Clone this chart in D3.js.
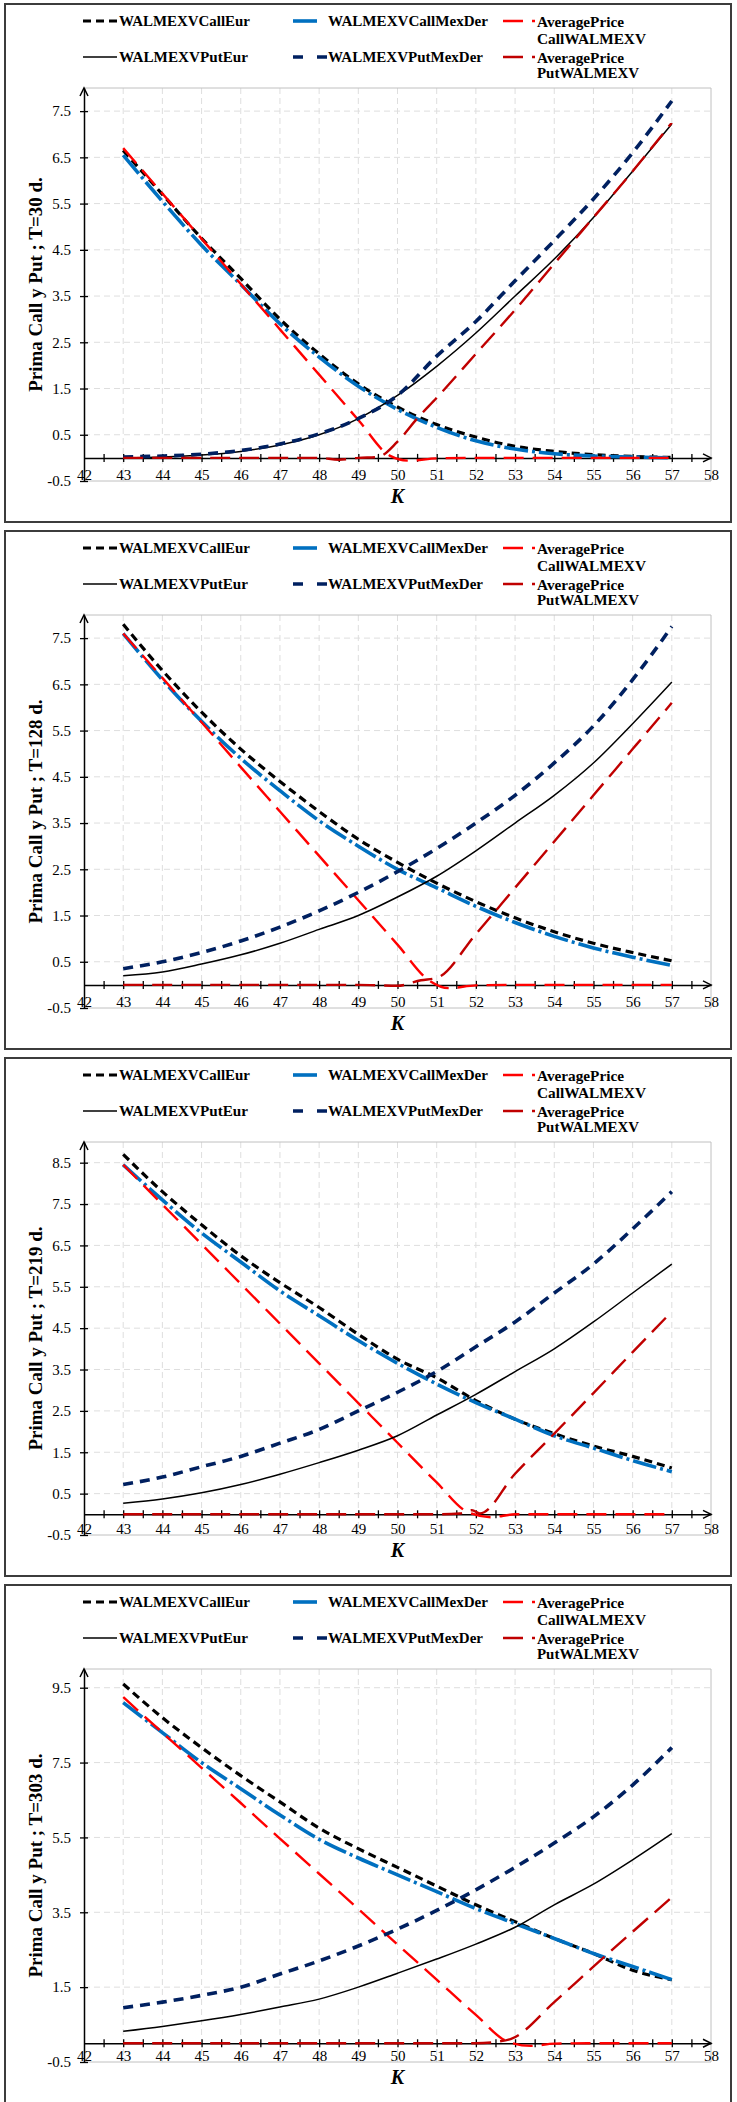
<!DOCTYPE html>
<html><head><meta charset="utf-8">
<script src="https://cdn.jsdelivr.net/npm/d3@7"></script>
<style>
body{margin:0;background:#fff}
svg{display:block}
text{font-family:"Liberation Serif","Times New Roman",serif}
</style>
</head><body>
<svg id="c" width="737" height="2102"></svg>
<script>
// ---------- DATA ----------
const strikes = [43,44,45,46,47,48,49,50,51,52,53,54,55,56,57];
const xTicks = [42,43,44,45,46,47,48,49,50,51,52,53,54,55,56,57,58];
const panelDays = [30,128,219,303];
const yMaxs = [8,8,9,10];
const yTicks30  = [-0.5,0.5,1.5,2.5,3.5,4.5,5.5,6.5,7.5];
const yTicks128 = [-0.5,0.5,1.5,2.5,3.5,4.5,5.5,6.5,7.5];
const yTicks219 = [-0.5,0.5,1.5,2.5,3.5,4.5,5.5,6.5,7.5,8.5];
const yTicks303 = [-0.5,1.5,3.5,5.5,7.5,9.5];
const seriesNames = ["WALMEXVCallEur","WALMEXVCallMexDer","AveragePrice CallWALMEXV","WALMEXVPutEur","WALMEXVPutMexDer","AveragePrice PutWALMEXV"];

// T = 30
const callEur30     = [6.65,5.7,4.75,3.88,3.0,2.25,1.6,1.1,0.72,0.45,0.25,0.14,0.07,0.03,0.01];
const callMexDer30  = [6.55,5.55,4.6,3.75,2.9,2.18,1.55,1.05,0.66,0.37,0.19,0.09,0.04,0.02,0.0];
const avgCallK30    = [43,44,45,46,47,48,49,49.8,50.3,51,52,53,54,55,56,57];
const avgCall30     = [6.7,5.72,4.74,3.76,2.78,1.8,0.82,0.05,-0.06,-0.01,0,0,0,0,0,0];
const putEur30      = [0.0,0.02,0.06,0.14,0.28,0.5,0.85,1.35,1.98,2.7,3.5,4.3,5.2,6.2,7.22];
const putMexDer30   = [0.02,0.04,0.08,0.16,0.3,0.52,0.85,1.35,2.2,2.95,3.83,4.7,5.6,6.6,7.72];
const avgPutK30     = [43,44,45,46,47,48,48.5,49,49.5,50,50.5,51,52,53,54,55,56,57];
const avgPut30      = [0,0,0,0,0,0,-0.04,0,0.02,0.35,0.85,1.3,2.25,3.2,4.2,5.2,6.2,7.25];

// T = 128
const callEur128    = [7.8,6.8,5.9,5.1,4.4,3.75,3.15,2.65,2.2,1.8,1.45,1.15,0.9,0.7,0.52];
const callMexDer128 = [7.6,6.6,5.7,4.9,4.2,3.55,3.0,2.5,2.1,1.7,1.35,1.05,0.8,0.6,0.42];
const avgCallK128   = [43,44,45,46,47,48,49,50,50.8,51.3,52,53,54,55,56,57];
const avgCall128    = [7.6,6.64,5.68,4.71,3.75,2.79,1.83,0.87,0.1,-0.07,-0.01,0,0,0,0,0];
const putEur128     = [0.2,0.28,0.45,0.65,0.9,1.2,1.5,1.9,2.35,2.9,3.5,4.1,4.8,5.65,6.55];
const putMexDer128  = [0.35,0.5,0.7,0.95,1.25,1.6,2.0,2.45,2.95,3.5,4.1,4.8,5.6,6.6,7.75];
const avgPutK128    = [43,44,45,46,47,48,49,50,50.6,51,52,53,54,55,56,57];
const avgPut128     = [0,0,0,0,0,0,0,-0.02,0.1,0.15,1.1,2.1,3.1,4.1,5.1,6.1];

// T = 219
const callEur219    = [8.7,7.8,7.0,6.25,5.6,5.0,4.35,3.75,3.3,2.75,2.3,1.95,1.65,1.4,1.12];
const callMexDer219 = [8.45,7.6,6.8,6.1,5.4,4.8,4.2,3.65,3.15,2.7,2.3,1.9,1.6,1.3,1.03];
const avgCallK219   = [43,44,45,46,47,48,49,50,51,51.8,52.4,53,54,55,56,57];
const avgCall219    = [8.45,7.49,6.53,5.57,4.61,3.65,2.69,1.73,0.77,0.05,-0.07,0,0,0,0,0];
const putEur219     = [0.27,0.37,0.52,0.72,0.97,1.25,1.55,1.9,2.4,2.9,3.45,4.0,4.65,5.35,6.05];
const putMexDer219  = [0.72,0.9,1.15,1.4,1.72,2.05,2.5,2.95,3.45,4.05,4.65,5.35,6.05,6.9,7.8];
const avgPutK219    = [43,44,45,46,47,48,49,50,51,51.6,51.9,52.1,53,54,55,56,57];
const avgPut219     = [0,0,0,0,0,0,0,0,0,0.02,0.1,0.02,0.98,1.95,2.93,3.92,4.9];

// T = 303
const callEur303    = [9.6,8.7,7.9,7.15,6.45,5.75,5.2,4.7,4.2,3.7,3.25,2.8,2.4,1.95,1.7];
const callMexDer303 = [9.1,8.3,7.5,6.8,6.1,5.45,4.95,4.5,4.05,3.6,3.2,2.8,2.4,2.05,1.7];
const avgCallK303   = [43,44,45,46,47,48,49,50,51,52,52.8,53.4,54,55,56,57];
const avgCall303    = [9.25,8.3,7.36,6.42,5.47,4.53,3.59,2.64,1.7,0.76,0.05,-0.07,-0.01,0,0,0];
const putEur303     = [0.32,0.45,0.6,0.77,0.97,1.18,1.5,1.87,2.25,2.65,3.1,3.7,4.25,4.9,5.6];
const putMexDer303  = [0.95,1.1,1.28,1.5,1.85,2.2,2.6,3.05,3.55,4.1,4.7,5.35,6.05,6.9,7.9];
const avgPutK303    = [43,44,45,46,47,48,49,50,51,52,52.6,52.9,54,55,56,57];
const avgPut303     = [0,0,0,0,0,0,0,0,0,0,0.05,0.12,1.1,2.05,2.98,3.9];

// ---------- STYLES ----------
const styles = [
  {color:"#000000", width:3.2, dash:"8,5"},
  {color:"#0070C0", width:3.6, dash:"24,4,3,4"},
  {color:"#FF0000", width:2.4, dash:"20,9"},
  {color:"#000000", width:1.5, dash:null},
  {color:"#002060", width:3.6, dash:"10,7"},
  {color:"#C00000", width:2.4, dash:"20,9"}
];

const zip = (xs, ys) => xs.map((x,i)=>[x, ys[i]]);
const panels = [
  {T:panelDays[0], yMax:yMaxs[0], yTicks:yTicks30, series:[zip(strikes,callEur30),zip(strikes,callMexDer30),zip(avgCallK30,avgCall30),zip(strikes,putEur30),zip(strikes,putMexDer30),zip(avgPutK30,avgPut30)]},
  {T:panelDays[1], yMax:yMaxs[1], yTicks:yTicks128, series:[zip(strikes,callEur128),zip(strikes,callMexDer128),zip(avgCallK128,avgCall128),zip(strikes,putEur128),zip(strikes,putMexDer128),zip(avgPutK128,avgPut128)]},
  {T:panelDays[2], yMax:yMaxs[2], yTicks:yTicks219, series:[zip(strikes,callEur219),zip(strikes,callMexDer219),zip(avgCallK219,avgCall219),zip(strikes,putEur219),zip(strikes,putMexDer219),zip(avgPutK219,avgPut219)]},
  {T:panelDays[3], yMax:yMaxs[3], yTicks:yTicks303, series:[zip(strikes,callEur303),zip(strikes,callMexDer303),zip(avgCallK303,avgCall303),zip(strikes,putEur303),zip(strikes,putMexDer303),zip(avgPutK303,avgPut303)]}
];

const svg = d3.select("#c");
const PX0 = 84, PX1 = 711;

function legend(g, oy){
  // [x1,x2,y,textX,styleIdx,label,textLen]
  const items = [
    {x1:83,x2:117,y:17,tx:119,s:0,lines:[["WALMEXVCallEur",131,17]]},
    {x1:293,x2:319,y:17,tx:328,s:1,lines:[["WALMEXVCallMexDer",160,17]]},
    {x1:503,x2:535,y:17,tx:537,s:2,lines:[["AveragePrice",87,18],["CallWALMEXV",109,35]]},
    {x1:83,x2:117,y:53,tx:119,s:3,lines:[["WALMEXVPutEur",129,53]]},
    {x1:293,x2:327,y:53,tx:328,s:4,dashOverride:"10,14",lines:[["WALMEXVPutMexDer",155,53]]},
    {x1:503,x2:535,y:53,tx:537,s:5,lines:[["AveragePrice",87,54],["PutWALMEXV",102,69]]}
  ];
  items.forEach(it=>{
    const st = styles[it.s];
    g.append("line").attr("x1",it.x1).attr("x2",it.x2).attr("y1",oy+it.y).attr("y2",oy+it.y)
      .attr("stroke",st.color).attr("stroke-width",st.width)
      .attr("stroke-dasharray",it.dashOverride || st.dash);
    it.lines.forEach(([t,len,yy])=>{
      g.append("text").attr("x",it.tx).attr("y",oy+yy).attr("dy","0.35em")
        .attr("font-size",14).attr("font-weight","bold")
        .attr("textLength",len).attr("lengthAdjust","spacingAndGlyphs").text(t);
    });
  });
}

panels.forEach((p,i)=>{
  const oy = 4 + i*527;
  const g = svg.append("g");
  g.append("rect").attr("x",5).attr("y",oy).attr("width",726).attr("height",518)
    .attr("fill","none").attr("stroke","#3c3c3c").attr("stroke-width",2);
  const top = oy+84, bot = oy+477;
  const x = d3.scaleLinear().domain([42,58]).range([PX0,PX1]);
  const y = d3.scaleLinear().domain([-0.5,p.yMax]).range([bot,top]);

  // grid
  g.append("g").selectAll("line").data(strikes).join("line")
    .attr("x1",d=>x(d)).attr("x2",d=>x(d)).attr("y1",top).attr("y2",bot)
    .attr("stroke","#dedede").attr("stroke-width",1).attr("stroke-dasharray","6,4");
  g.append("g").selectAll("line").data(p.yTicks.filter(v=>v>-0.5)).join("line")
    .attr("x1",PX0).attr("x2",PX1).attr("y1",d=>y(d)).attr("y2",d=>y(d))
    .attr("stroke","#dedede").attr("stroke-width",1).attr("stroke-dasharray","6,4");
  // plot border (top, right, bottom)
  g.append("path").attr("d",`M${PX0},${top}H${PX1}V${bot}H${PX0}`)
    .attr("fill","none").attr("stroke","#c0c0c0").attr("stroke-width",1);

  // y axis
  const ya = g.append("g").attr("transform",`translate(${PX0},0)`)
    .call(d3.axisLeft(y).tickValues(p.yTicks).tickFormat(d=>d.toFixed(1)).tickSizeInner(4).tickSizeOuter(0).tickPadding(9));
  ya.select(".domain").attr("stroke","#000").attr("stroke-width",1.5);
  ya.selectAll(".tick line").attr("x1",-4).attr("x2",4).attr("stroke-width",1.3);
  ya.selectAll(".tick text").attr("font-size",15).style("font-family",'"Liberation Serif",serif');
  g.append("path").attr("d",`M${PX0-4},${top+8}L${PX0},${top}L${PX0+4},${top+8}`)
    .attr("fill","none").attr("stroke","#000").attr("stroke-width",1.5);

  // x axis at y = 0
  const y0 = y(0);
  const xa = g.append("g").attr("transform",`translate(0,${y0})`)
    .call(d3.axisBottom(x).tickValues(d3.range(42.5,58,0.5)).tickFormat("").tickSizeInner(4).tickSizeOuter(0));
  xa.select(".domain").attr("stroke","#000").attr("stroke-width",1.5);
  xa.selectAll(".tick line").attr("y1",-4).attr("y2",4).attr("stroke-width",1.3);
  g.append("path").attr("d",`M${PX1-8},${y0-4}L${PX1},${y0}L${PX1-8},${y0+4}`)
    .attr("fill","none").attr("stroke","#000").attr("stroke-width",1.5);
  // x tick labels along the bottom
  const xl = g.append("g").attr("transform",`translate(0,${oy+465})`)
    .call(d3.axisBottom(x).tickValues(xTicks).tickSize(0).tickPadding(0).tickFormat(d3.format("d")));
  xl.select(".domain").remove();
  xl.selectAll(".tick text").attr("font-size",15).style("font-family",'"Liberation Serif",serif');

  // lines
  const lineGen = d3.line().x(d=>x(d[0])).y(d=>y(d[1])).curve(d3.curveMonotoneX);
  p.series.forEach((s,k)=>{
    const st = styles[k];
    g.append("path").datum(s).attr("d",lineGen).attr("fill","none")
      .attr("stroke",st.color).attr("stroke-width",st.width)
      .attr("stroke-dasharray",st.dash).attr("stroke-linejoin","round");
  });

  // titles
  g.append("text").attr("transform",`translate(35,${oy+280.5}) rotate(-90)`)
    .attr("text-anchor","middle").attr("dy","0.35em").attr("font-size",19).attr("font-weight","bold")
    .text(`Prima Call y Put ; T=${p.T} d.`);
  g.append("text").attr("x",(PX0+PX1)/2).attr("y",oy+499).attr("text-anchor","middle")
    .attr("font-size",20).attr("font-weight","bold").attr("font-style","italic").text("K");

  legend(g, oy);
});
</script>
</body></html>
